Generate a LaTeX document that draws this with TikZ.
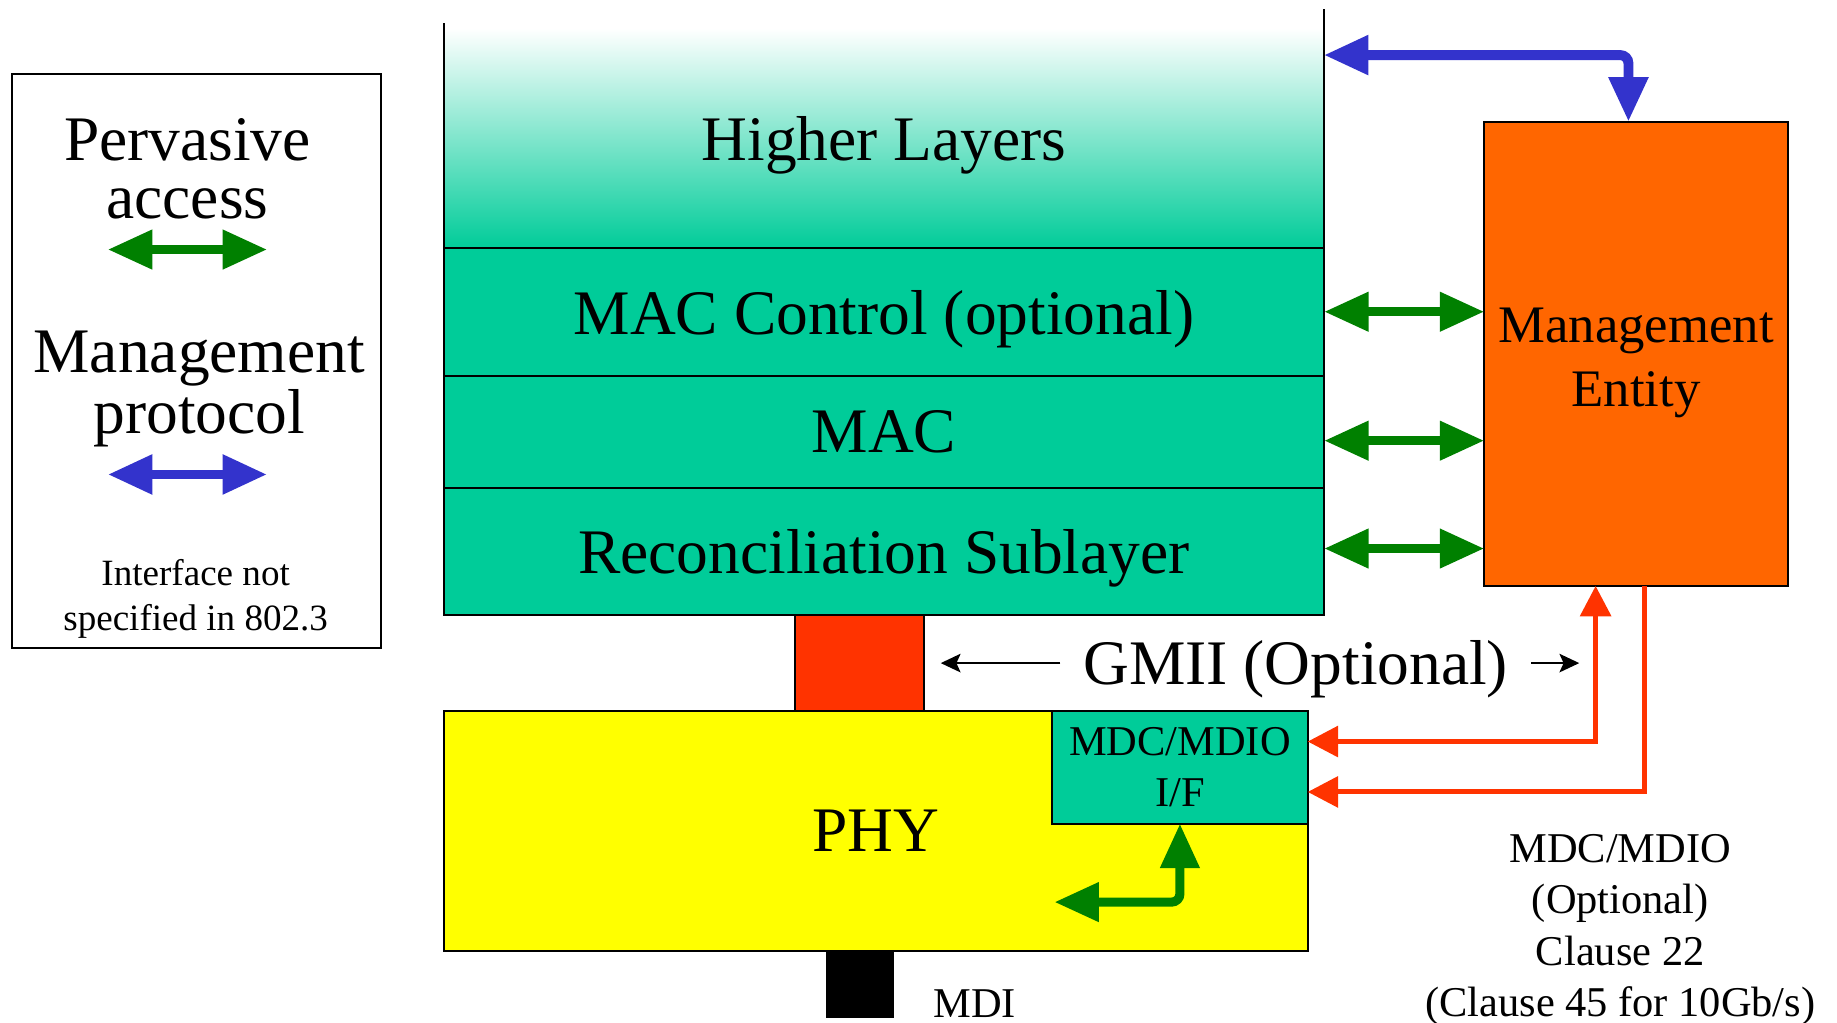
\documentclass[tikz,border=0pt]{standalone}
\usepackage{fontspec}
\setmainfont{Liberation Serif}
\usetikzlibrary{positioning,arrows.meta}
\definecolor{layerteal}{RGB}{0,204,153}
\definecolor{mgmtorange}{RGB}{255,102,0}
\definecolor{gmiired}{RGB}{255,51,0}
\definecolor{phyyellow}{RGB}{255,255,0}
\definecolor{pagreen}{RGB}{0,128,0}
\definecolor{mpblue}{RGB}{51,51,204}
\newcommand\bigfont{\fontsize{15.4pt}{14pt}\selectfont}
\newcommand\mefont{\fontsize{12.8pt}{15.6pt}\selectfont}
\newcommand\midfont{\fontsize{10.3pt}{12.5pt}\selectfont}
\newcommand\smallfont{\fontsize{9pt}{10.8pt}\selectfont}
\tikzset{
  layer/.style={draw, line width=0.5pt, fill=layerteal, minimum width=7.51cm, inner sep=0pt, outer sep=0pt, text depth=0pt, font=\bigfont},
  box/.style={draw, line width=0.5pt, inner sep=0pt, outer sep=0pt, align=center},
  pa/.style={draw=pagreen, line width=2.2pt, {Triangle[length=10.8pt,width=9.1pt]}-{Triangle[length=10.8pt,width=9.1pt]}},
  mp/.style={draw=mpblue, line width=2.4pt, rounded corners=2pt, {Triangle[length=10.8pt,width=9.1pt]}-{Triangle[length=10.8pt,width=9.1pt]}},
  mdio/.style={draw=gmiired, line width=1.2pt, arrows={-Triangle[length=7.4pt,width=7.4pt]}},
  thinarrow/.style={draw, line width=0.5pt, -{Stealth[length=4.8pt,width=4.5pt,inset=1pt]}}
}
\begin{document}
\begin{tikzpicture}[x=0.01cm,y=-0.01cm]
\useasboundingbox (0,0) rectangle (1568,873);

% legend
\node[box, minimum width=3.15cm, minimum height=4.90cm] (legend) at (167.5,308) {};
\node[align=center, font=\bigfont] (pervasive) at (160,144) {Pervasive\\access};
\node[align=center, font=\bigfont] (protocol) at (170,332) {Management\\protocol};
\node[align=center, font=\smallfont] (notspec) at (167,511) {Interface not\\specified in 802.3};
\coordinate (pal) at (92,213);
\coordinate (par) at (228,213);
\coordinate (mpl) at (92,405);
\coordinate (mpr) at (228,405);
\draw[pa] (pal) -- (par);
\draw[mp] (mpl) -- (mpr);

% layer stack
\node[minimum width=7.51cm, minimum height=1.88cm, inner sep=0pt, outer sep=0pt, text depth=0pt,
  top color=white, middle color=layerteal!30!white, bottom color=layerteal, font=\bigfont] (hl) at (754.5,118) {Higher Layers};
\draw[line width=0.5pt] ([yshift=0.04cm]hl.north west) -- (hl.south west);
\draw[line width=0.5pt] ([yshift=0.16cm]hl.north east) -- (hl.south east);
\node[layer, minimum height=1.09cm, below=0pt of hl] (macc) {MAC Control (optional)};
\node[layer, minimum height=0.95cm, below=0pt of macc] (mac) {MAC};
\node[layer, minimum height=1.09cm, below=0pt of mac] (rs) {Reconciliation Sublayer};

\node[box, fill=gmiired, minimum width=1.10cm, minimum height=0.82cm] (gmiibox) at (734,566) {};
\node[box, fill=phyyellow, minimum width=7.37cm, minimum height=2.05cm, font=\bigfont] (phy) at (747.5,709.5) {\raisebox{-0.04cm}{PHY}};
\node[box, fill=layerteal, minimum width=2.18cm, minimum height=0.96cm, font=\midfont, anchor=north east] (mdiobox) at (phy.north east) {MDC/MDIO\\I/F};
\node[box, fill=black, minimum width=0.56cm, minimum height=0.56cm] (mdi) at (734,840) {};
\node[font=\midfont] (mdilabel) at (832,857) {MDI};

% management entity
\node[box, fill=mgmtorange, minimum width=2.59cm, minimum height=3.96cm] (me) at (1396.5,302) {};
\node[align=center, font=\mefont] (metext) at (1396.5,310) {Management\\Entity};

\coordinate (hlport) at (1130,47);
\coordinate (mecorner) at (1390,47);
\draw[mp] (hlport) -- (mecorner) -- ([xshift=-0.065cm]me.north);
\draw[pa] ([yshift=0.005cm]macc.east) -- ([yshift=0.005cm]macc.east -| me.west);
\draw[pa] ([yshift=-0.075cm]mac.east) -- ([yshift=-0.075cm]mac.east -| me.west);
\draw[pa] ([yshift=0.025cm]rs.east) -- ([yshift=0.025cm]rs.east -| me.west);

% GMII
\node[font=\bigfont, inner xsep=0.19cm] (gmii) at (1106,571) {GMII (Optional)};
\coordinate (gmiil) at (803,566);
\coordinate (gmiir) at (1348,566);
\draw[thinarrow] (gmii.west |- gmiil) -- (gmiil);
\draw[thinarrow] (gmii.east |- gmiir) -- (gmiir);

% MDC/MDIO lines
\draw[mdio, {Triangle[length=7.4pt,width=7.4pt]}-{Triangle[length=7.4pt,width=7.4pt]}] ([xshift=-0.345cm]me.south) |- ([yshift=0.22cm]mdiobox.east);
\draw[mdio] ([xshift=0.075cm]me.south) |- ([yshift=-0.21cm]mdiobox.east);
\coordinate (phyport) at (900,770);
\draw[pa, rounded corners=2pt] (mdiobox.south) |- (phyport);

\node[align=center, font=\midfont] (clause) at (1383,794) {MDC/MDIO\\(Optional)\\Clause 22\\(Clause 45 for 10Gb/s)};
\end{tikzpicture}
\end{document}
